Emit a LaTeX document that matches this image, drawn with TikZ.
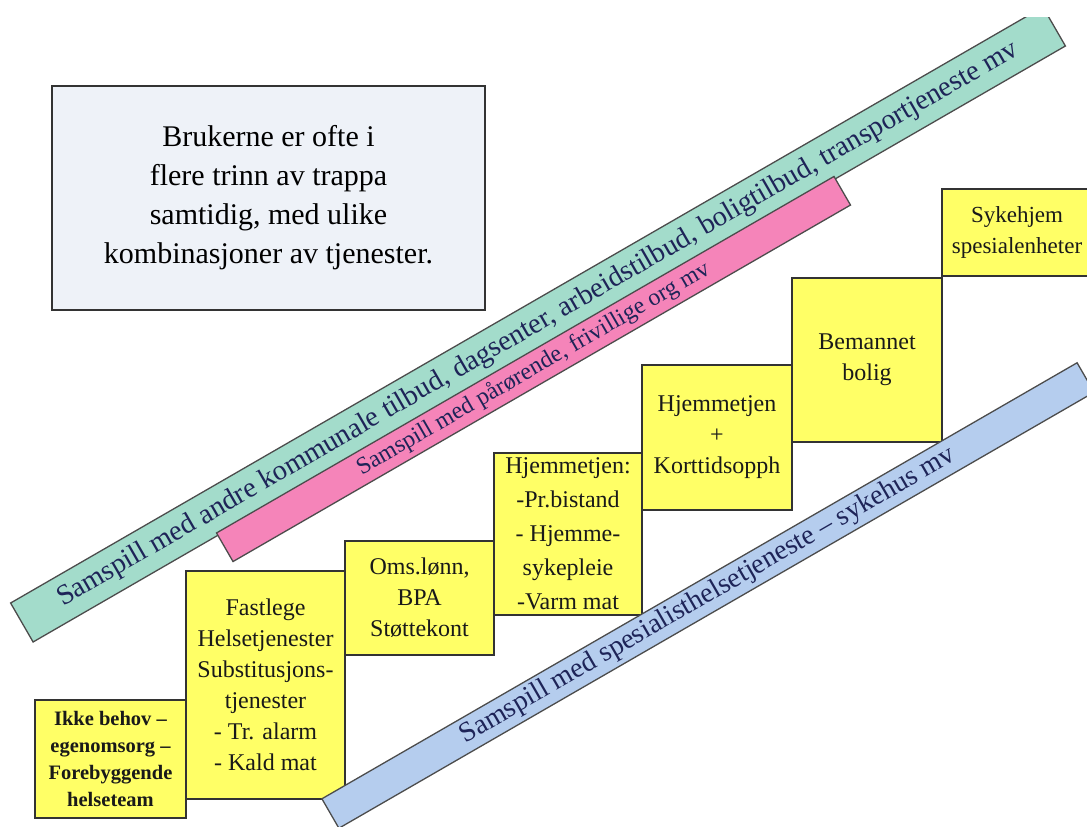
\documentclass[tikz,border=0pt]{standalone}
\usepackage{fontspec}
\setmainfont{Liberation Serif}

\definecolor{bandteal}{HTML}{A3DCCB}
\definecolor{bandpink}{HTML}{F584B9}
\definecolor{bandblue}{HTML}{B5CDEE}
\definecolor{stepyellow}{HTML}{FFFF66}
\definecolor{notegrey}{HTML}{EEF2F8}
\definecolor{bandtext}{HTML}{1E2458}

\begin{document}
\begin{tikzpicture}[x=1pt, y=-1pt,
  notebox/.style={draw=black!80, line width=1.8pt, fill=notegrey, align=center, inner sep=0pt, font=\fontsize{30}{39}\selectfont},
  stepbox/.style={draw=black!80, line width=1.6pt, fill=stepyellow, align=center, inner sep=0pt, font=\fontsize{24}{31}\selectfont, text=black!90},
  band/.style={draw=black!70, line width=1.3pt, rotate=30, inner sep=0pt, text=bandtext}]
  \useasboundingbox (0,0) rectangle (1087,827);

  \node[notebox, minimum width=433pt, minimum height=224pt] (note) at (268.5,198)
    {Brukerne er ofte i\\flere trinn av trappa\\samtidig, med ulike\\kombinasjoner av tjenester.};

  % skraa baand bak trappa
  \begin{scope}
    \clip (0,17) rectangle (1087,827);
    \node[band, fill=bandteal, minimum width=1192pt, minimum height=45pt, font=\fontsize{28.5}{28.5}\selectfont] (andre) at (538,324.5)
      {Samspill med andre kommunale tilbud, dagsenter, arbeidstilbud, boligtilbud, transportjeneste mv};
  \end{scope}
  \node[band, fill=bandpink, minimum width=713pt, minimum height=33pt, font=\fontsize{24}{24}\selectfont] (parorende) at (533.5,369)
    {Samspill med pårørende, frivillige org mv};

  % trinnene
  \node[stepbox, minimum width=151pt, minimum height=118pt, font=\bfseries\fontsize{20.5}{27}\selectfont] (ikke) at (110.5,759)
    {Ikke behov --\\egenomsorg --\\Forebyggende\\helseteam};
  \node[stepbox, minimum width=159pt, minimum height=228pt] (fastlege) at (265.5,685)
    {Fastlege\\Helsetjenester\\Substitusjons-\\tjenester\\- Tr. alarm\\- Kald mat};
  \node[stepbox, minimum width=149pt, minimum height=114pt] (oms) at (419.5,598)
    {Oms.lønn,\\BPA\\Støttekont};
  \node[stepbox, minimum width=148pt, minimum height=162pt, font=\fontsize{24}{34}\selectfont] (hjemme) at (568,534)
    {Hjemmetjen:\\-Pr.bistand\\- Hjemme-\\sykepleie\\-Varm mat};
  \node[stepbox, minimum width=150pt, minimum height=145pt] (kort) at (717,437.5)
    {Hjemmetjen\\+\\Korttidsopph};
  \node[stepbox, minimum width=150pt, minimum height=164pt] (bolig) at (867,360)
    {Bemannet\\bolig};
  \node[stepbox, minimum width=150pt, minimum height=87pt, font=\fontsize{23}{31}\selectfont] (sykehjem) at (1017,232.5)
    {Sykehjem\\spesialenheter};

  \node[band, fill=bandblue, minimum width=872pt, minimum height=34pt, font=\fontsize{28}{28}\selectfont] (spesialist) at (708,595.5)
    {Samspill med spesialisthelsetjeneste -- sykehus mv};
\end{tikzpicture}
\end{document}
